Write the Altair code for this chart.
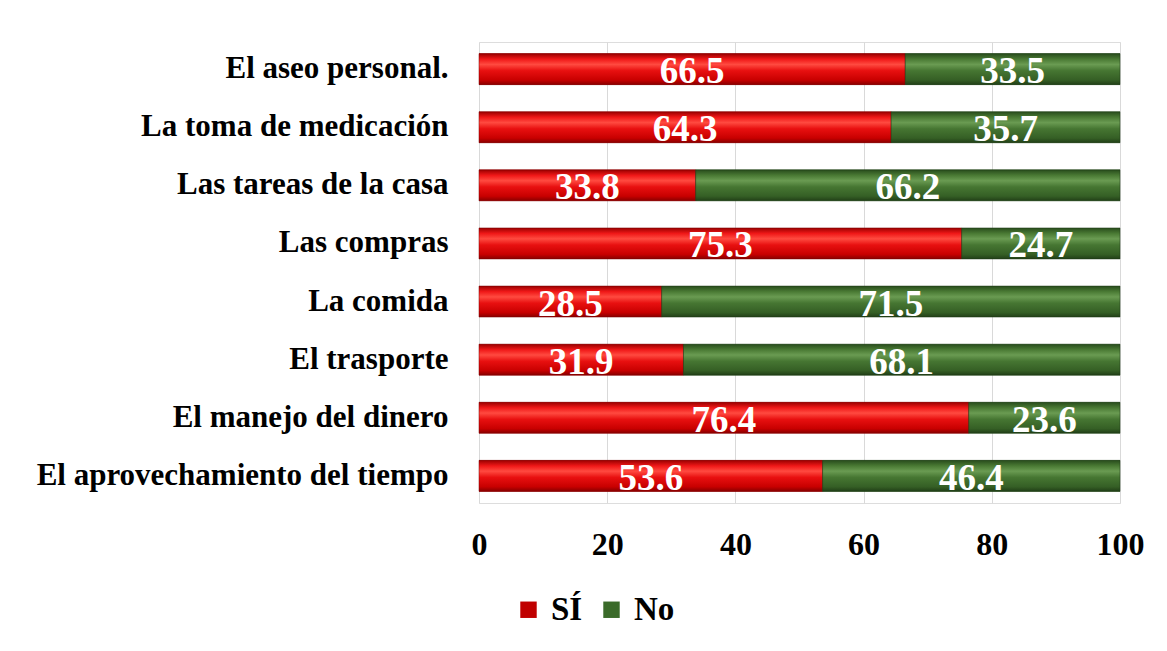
import altair as alt
import pandas as pd

categories = [
    "El aseo personal.",
    "La toma de medicación",
    "Las tareas de la casa",
    "Las compras",
    "La comida",
    "El trasporte",
    "El manejo del dinero",
    "El aprovechamiento del tiempo",
]
si_values = [66.5, 64.3, 33.8, 75.3, 28.5, 31.9, 76.4, 53.6]
no_values = [33.5, 35.7, 66.2, 24.7, 71.5, 68.1, 23.6, 46.4]
series = ["SÍ", "No"]
x_ticks = [0, 20, 40, 60, 80, 100]

rows = []
for c, s, n in zip(categories, si_values, no_values):
    rows.append({"cat": c, "serie": "SÍ", "val": s, "start": 0.0, "end": s})
    rows.append({"cat": c, "serie": "No", "val": n, "start": s, "end": s + n})
df = pd.DataFrame(rows)
df["mid"] = (df["start"] + df["end"]) / 2
df["label"] = df["val"].map(lambda v: f"{v:.1f}")

FONT = "Liberation Serif"

y_enc = alt.Y(
    "cat:N",
    sort=categories,
    title=None,
    scale=alt.Scale(paddingInner=0.466, paddingOuter=0.2),
    axis=alt.Axis(
        labelFont=FONT, labelFontSize=31, labelFontWeight="bold", labelColor="#000000",
        labelPadding=31, ticks=False, domain=False, labelLimit=600,
    ),
)
x_enc = alt.X(
    "start:Q",
    title=None,
    scale=alt.Scale(domain=[0, 100], nice=False),
    axis=alt.Axis(
        values=x_ticks, labelFont=FONT, labelFontSize=32, labelFontWeight="bold",
        labelColor="#000000", labelPadding=26, ticks=False, domain=False,
        grid=True, gridColor="#d9d9d9", labelFlush=False,
    ),
)

base = alt.Chart(df)

legend_bars = base.mark_bar().encode(
    y=y_enc,
    x=x_enc,
    x2="end:Q",
    color=alt.Color(
        "serie:N",
        sort=series,
        scale=alt.Scale(domain=series, range=["#c00000", "#3b6b2a"]),
        legend=alt.Legend(
            title=None, orient="none", direction="horizontal",
            legendX=33, legendY=551,
            labelFont=FONT, labelFontSize=33, labelFontWeight="bold", labelColor="#000000",
            symbolType="square", symbolSize=270, symbolStrokeWidth=0,
            columnPadding=12, labelOffset=6,
        ),
    ),
)

red_grad = alt.Gradient(
    gradient="linear", x1=0, x2=0, y1=0, y2=1,
    stops=[
        alt.GradientStop(color="#9a0000", offset=0),
        alt.GradientStop(color="#f01818", offset=0.18),
        alt.GradientStop(color="#ff4a40", offset=0.35),
        alt.GradientStop(color="#e81010", offset=0.55),
        alt.GradientStop(color="#c80000", offset=0.85),
        alt.GradientStop(color="#880000", offset=1),
    ],
)
green_grad = alt.Gradient(
    gradient="linear", x1=0, x2=0, y1=0, y2=1,
    stops=[
        alt.GradientStop(color="#284c1c", offset=0),
        alt.GradientStop(color="#4a7a34", offset=0.18),
        alt.GradientStop(color="#6a9b52", offset=0.35),
        alt.GradientStop(color="#467632", offset=0.55),
        alt.GradientStop(color="#355f25", offset=0.85),
        alt.GradientStop(color="#213f17", offset=1),
    ],
)

si_bars = base.transform_filter(alt.datum.serie == "SÍ").mark_bar(
    color=red_grad, stroke="#7a0000", strokeWidth=0.5
).encode(y=alt.Y("cat:N", sort=categories), x="start:Q", x2="end:Q")

no_bars = base.transform_filter(alt.datum.serie == "No").mark_bar(
    color=green_grad, stroke="#1f3a16", strokeWidth=0.5
).encode(y=alt.Y("cat:N", sort=categories), x="start:Q", x2="end:Q")

labels = base.mark_text(
    font=FONT, fontSize=37, fontWeight="bold", color="#ffffff", baseline="middle", dy=3
).encode(
    y=alt.Y("cat:N", sort=categories),
    x=alt.X("mid:Q"),
    text="label:N",
)

chart = alt.layer(legend_bars, si_bars, no_bars, labels).properties(
    width=641,
    height=461,
    autosize=alt.AutoSizeParams(type="none"),
    padding={"left": 471, "top": 34, "right": 30, "bottom": 140},
).configure_view(
    stroke="#bfbfbf", strokeWidth=1
).configure(background="#ffffff")

chart.save("out.html", embed_options={"renderer": "svg", "actions": False})
